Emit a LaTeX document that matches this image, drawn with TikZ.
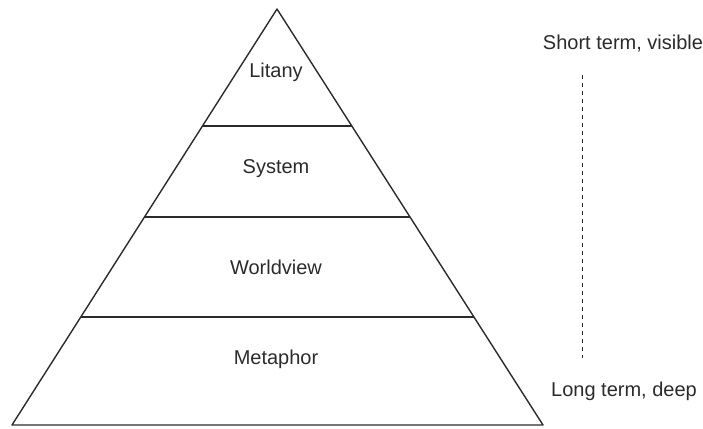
\documentclass[tikz,border=0pt]{standalone}
\usepackage{fontspec}
\setmainfont{Liberation Sans}
\usetikzlibrary{calc}
\definecolor{ink}{HTML}{2B2B2B}
\tikzset{
  edge/.style={draw=ink, line width=1.4pt, line join=round},
  lbl/.style={text=ink, font=\fontsize{20}{23}\selectfont, inner sep=0pt},
  guide/.style={draw=ink, line width=1pt, dash pattern=on 4pt off 4pt}
}
\begin{document}
\begin{tikzpicture}[x=1pt,y=-1pt]
\useasboundingbox (0,0) rectangle (703,428);
\coordinate (apex) at (277,9);
\coordinate (bl) at (12,425);
\coordinate (br) at (543,425);
\draw[edge] (apex) -- (bl) -- (br) -- cycle;
\coordinate (l1) at ($(apex)!0.281!(bl)$);
\coordinate (r1) at ($(apex)!0.281!(br)$);
\coordinate (l2) at ($(apex)!0.500!(bl)$);
\coordinate (r2) at ($(apex)!0.500!(br)$);
\coordinate (l3) at ($(apex)!0.740!(bl)$);
\coordinate (r3) at ($(apex)!0.740!(br)$);
\draw[edge] (l1) -- (r1);
\draw[edge] (l2) -- (r2);
\draw[edge] (l3) -- (r3);
\node[lbl] (litany) at (276,72) {Litany};
\node[lbl] (system) at (276,169) {System};
\node[lbl] (worldview) at (276,267) {Worldview};
\node[lbl] (metaphor) at (276,359) {Metaphor};
\node[lbl] (short) at (623,44) {Short term, visible};
\node[lbl] (long) at (624,391) {Long term, deep};
\coordinate (dtop) at (582,75);
\coordinate (dbot) at (582,358);
\draw[guide] (dtop) -- (dbot);
\end{tikzpicture}
\end{document}
